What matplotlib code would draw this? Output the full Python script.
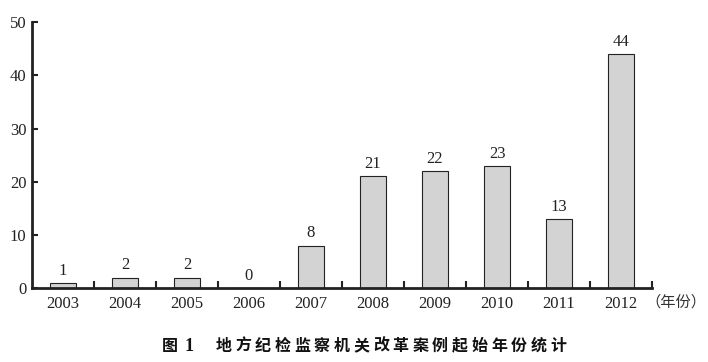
import numpy as np
import matplotlib.pyplot as plt

years = ['2003', '2004', '2005', '2006', '2007', '2008', '2009', '2010', '2011', '2012']
counts = [1, 2, 2, 0, 8, 21, 22, 23, 13, 44]
title_head = '图 1'
title_body = '地方纪检监察机关改革案例起始年份统计'

plt.rcParams['font.family'] = ['Liberation Serif', 'Noto Sans CJK SC']

fig = plt.figure(figsize=(7.08, 3.62), dpi=100)
ax = fig.add_axes([0.045, 0.204, 0.876, 0.735])

x = np.arange(len(years))
bars = ax.bar(x, counts, width=0.42, color='#d3d3d3', edgecolor='#222222', linewidth=0.8)
for xi, v in zip(x, counts):
    ax.text(xi, v + 0.8, str(v), ha='center', va='bottom', fontsize=12, color='#222222')

ax.set_xlim(-0.5, len(years) - 0.5)
ax.set_ylim(0, 50)
ax.set_yticks(range(0, 51, 10))
ax.tick_params(axis='y', direction='in', length=4, width=1.5, labelsize=12, pad=4, colors='#222222')

# category labels centred, ticks on the boundaries
ax.set_xticks(x)
ax.set_xticklabels(years, fontsize=12, color='#222222')
ax.tick_params(axis='x', length=0, pad=6)
ax.set_xticks(np.arange(0.5, len(years), 1), minor=True)
ax.tick_params(axis='x', which='minor', direction='in', length=5, width=1.5, color='#222222')

for s in ['top', 'right']:
    ax.spines[s].set_visible(False)
for s in ['left', 'bottom']:
    ax.spines[s].set_linewidth(2)
    ax.spines[s].set_color('#222222')

fig.text(0.998, 0.166, '（年份）', ha='right', va='center', fontsize=11,
         family=['Noto Sans CJK SC'], color='#333333')

# caption, one character at a time to get the wide letter spacing
cap_y = 0.031
fig.text(0.229, cap_y, '图', ha='left', va='baseline', fontsize=11.5, weight='bold',
         family=['Noto Sans CJK SC'], color='#111111')
fig.text(0.261, cap_y, '1', ha='left', va='baseline', fontsize=13, weight='bold',
         family=['Liberation Serif'], color='#111111')
x0, step = 0.3155, 19.7 / 708
for i, ch in enumerate(title_body):
    fig.text(x0 + i * step, cap_y, ch, ha='center', va='baseline', fontsize=11.5, weight='bold',
             family=['Noto Sans CJK SC'], color='#111111')

fig.savefig('out.png', dpi=100)
